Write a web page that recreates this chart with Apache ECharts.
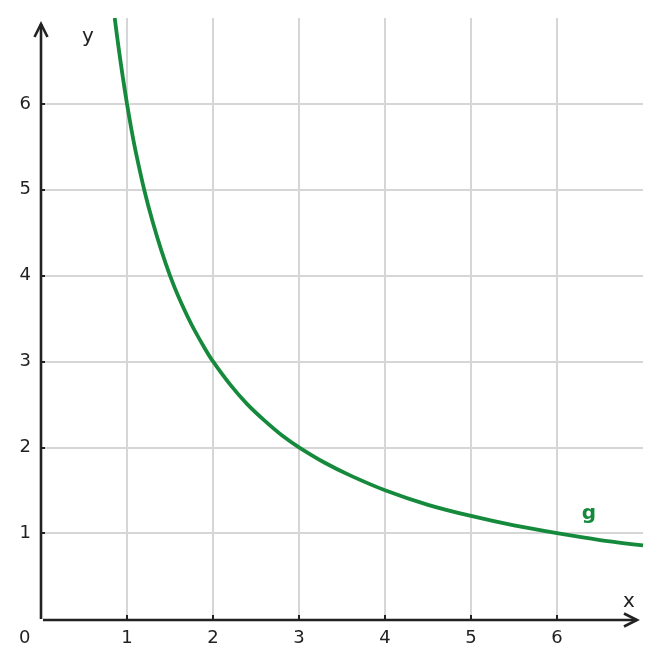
<!DOCTYPE html>
<html><head><meta charset="utf-8">
<script src="https://cdn.jsdelivr.net/npm/echarts@6/dist/echarts.min.js"></script>
<style>html,body{margin:0;padding:0;background:#fff}#c{width:661px;height:668px}</style>
</head><body><div id="c"></div>
<script>
const xs = [0.857, 0.9, 0.95, 1, 1.05, 1.1, 1.2, 1.3, 1.4, 1.5, 1.6, 1.75, 1.9, 2, 2.2, 2.4, 2.6, 2.8, 3, 3.3, 3.6, 4, 4.5, 5, 5.5, 6, 6.5, 7];
const ys = [7.0, 6.67, 6.32, 6.0, 5.71, 5.45, 5.0, 4.62, 4.29, 4.0, 3.75, 3.43, 3.16, 3.0, 2.73, 2.5, 2.31, 2.14, 2.0, 1.82, 1.67, 1.5, 1.33, 1.2, 1.09, 1.0, 0.92, 0.857];
const tickVals = [1, 2, 3, 4, 5, 6];
const curveName = 'g';
const labelPoint = [6.37, 0.94];

const font = 'DejaVu Sans';
const axisCol = '#222';
const green = '#168a3c';

function axisCommon(isX) {
  return {
    type: 'value', min: 0, max: 7, interval: 1,
    axisLine: {show: false},
    axisTick: {show: true, inside: true, length: 4, lineStyle: {color: axisCol, width: 2}, customValues: tickVals},
    axisLabel: {show: true, color: axisCol, fontFamily: font, fontSize: 18, margin: 10,
      customValues: tickVals,
      formatter: v => (v >= 1 && v <= 6) ? String(v) : ''},
    splitLine: {show: true, lineStyle: {color: '#d6d6d6', width: 2}}
  };
}

const chart = echarts.init(document.getElementById('c'));
chart.setOption({
  animation: false,
  grid: {left: 41, right: 18, top: 18, bottom: 49, containLabel: false},
  xAxis: axisCommon(true),
  yAxis: axisCommon(false),
  series: [{
    type: 'line', data: xs.map((x, i) => [x, ys[i]]), smooth: 0.3, showSymbol: false, symbol: 'none',
    lineStyle: {color: green, width: 3.8}, clip: true, z: 5,
    markPoint: {
      symbol: 'circle', symbolSize: 2, itemStyle: {color: 'rgba(0,0,0,0)'}, silent: true,
      label: {show: true, formatter: curveName, position: 'top', distance: 13,
        color: green, fontFamily: font, fontWeight: 'bold', fontSize: 20},
      data: [{coord: labelPoint}]
    }
  }]
});

// axis lines with open arrow heads, placed from the library's own scales
const o = chart.convertToPixel({gridIndex: 0}, [0, 0]);
const xe = chart.convertToPixel({gridIndex: 0}, [7, 0]);
const ye = chart.convertToPixel({gridIndex: 0}, [0, 7]);
const xTip = [xe[0] - 6, o[1] + 1];
const yTip = [o[0], ye[1] + 6];
const ah = 13, aw = 6.5;
chart.setOption({
  graphic: [
    {type: 'polyline', z: 10, shape: {points: [[o[0], o[1]], [o[0], yTip[1]]]},
      style: {stroke: axisCol, lineWidth: 2.6, fill: null}},
    {type: 'polyline', z: 10, shape: {points: [[o[0] + 2, xTip[1]], [xTip[0], xTip[1]]]},
      style: {stroke: axisCol, lineWidth: 2.6, fill: null}},
    {type: 'polyline', z: 10, shape: {points: [[xTip[0] - ah, xTip[1] - aw], [xTip[0], xTip[1]], [xTip[0] - ah, xTip[1] + aw]]},
      style: {stroke: axisCol, lineWidth: 2.6, fill: null, lineJoin: 'miter'}},
    {type: 'polyline', z: 10, shape: {points: [[yTip[0] - aw, yTip[1] + ah], [yTip[0], yTip[1]], [yTip[0] + aw, yTip[1] + ah]]},
      style: {stroke: axisCol, lineWidth: 2.6, fill: null, lineJoin: 'miter'}},
    {type: 'text', left: 19, top: 629, style: {text: '0', fill: axisCol, font: '18px "DejaVu Sans"'}},
    {type: 'text', left: 623, top: 592, style: {text: 'x', fill: axisCol, font: '20px "DejaVu Sans"'}},
    {type: 'text', left: 82, top: 27, style: {text: 'y', fill: axisCol, font: '20px "DejaVu Sans"'}}
  ]
});
</script></body></html>
